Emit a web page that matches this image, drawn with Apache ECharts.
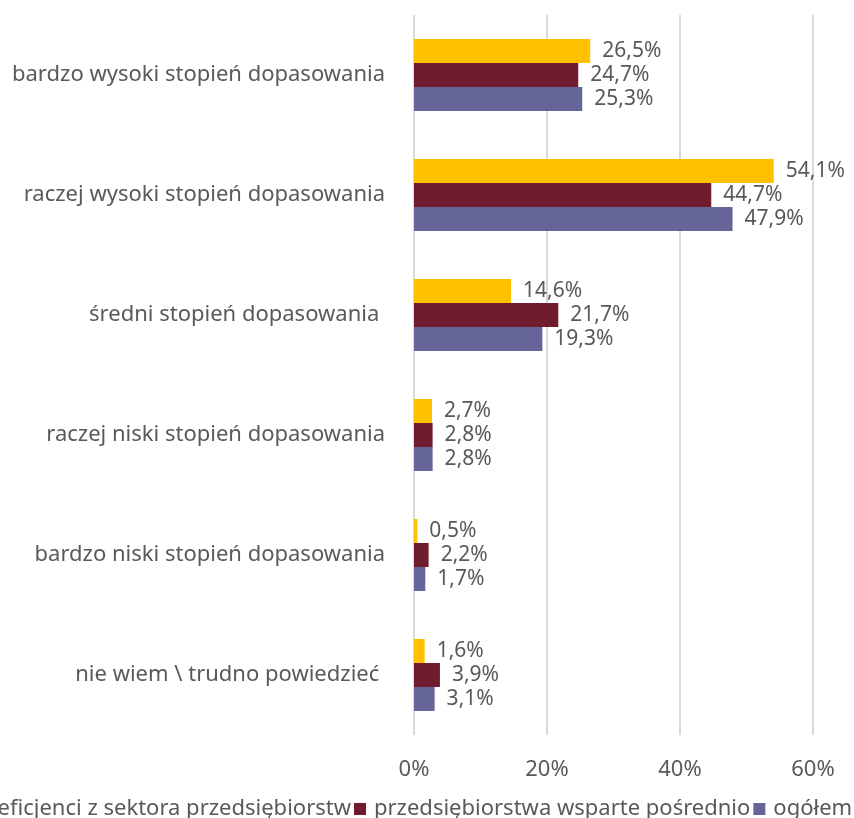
<!DOCTYPE html>
<html><head><meta charset="utf-8">
<script src="https://cdn.jsdelivr.net/npm/echarts@6/dist/echarts.min.js"></script>
<style>html,body{margin:0;padding:0;background:#fff}#c{width:854px;height:818px}</style>
</head><body><div id="c"></div>
<script>
const categories = ["bardzo wysoki stopień dopasowania","raczej wysoki stopień dopasowania","średni stopień dopasowania ","raczej niski stopień dopasowania","bardzo niski stopień dopasowania","nie wiem \\ trudno powiedzieć "];
const seriesNames = ["beneficjenci z sektora przedsiębiorstw","przedsiębiorstwa wsparte pośrednio","ogółem"];
const beneficjenci = [26.5,54.1,14.6,2.7,0.5,1.6];
const posrednio = [24.7,44.7,21.7,2.8,2.2,3.9];
const ogolem = [25.3,47.9,19.3,2.8,1.7,3.1];
const tickLabels = [0,20,40,60];
const colors = ["#FFC000","#6E1C2E","#65659A"];
const font = "Noto Sans";
const chart = echarts.init(document.getElementById('c'));
const lbl = {show:true,position:'right',distance:12,fontFamily:font,fontSize:21,color:'#595959',
  formatter:p=>p.value.toFixed(1).replace('.',',')+'%'};
chart.setOption({
  animation:false,
  color:colors,
  grid:{left:414,right:41,top:15,bottom:83,containLabel:false},
  legend:{left:-67,width:1100,bottom:-7,itemWidth:12,itemHeight:12,itemGap:3,icon:'rect',
    textStyle:{fontFamily:font,fontSize:22,color:'#595959',padding:[0,0,0,3]},data:seriesNames},
  xAxis:{type:'value',min:0,max:60,interval:20,
    axisLabel:{fontFamily:font,fontSize:22,color:'#595959',margin:24,formatter:v=>v+'%'},
    splitLine:{lineStyle:{color:'#D9D9D9',width:2}},axisLine:{show:false},axisTick:{show:false}},
  yAxis:{type:'category',inverse:true,data:categories,
    axisLabel:{fontFamily:font,fontSize:22,color:'#595959',margin:29},
    axisLine:{show:false},axisTick:{show:false}},
  series:[
    {name:seriesNames[0],type:'bar',data:beneficjenci,barGap:0,barCategoryGap:'40%',label:lbl},
    {name:seriesNames[1],type:'bar',data:posrednio,barGap:0,barCategoryGap:'40%',label:lbl},
    {name:seriesNames[2],type:'bar',data:ogolem,barGap:0,barCategoryGap:'40%',label:lbl}
  ]
});
</script></body></html>
